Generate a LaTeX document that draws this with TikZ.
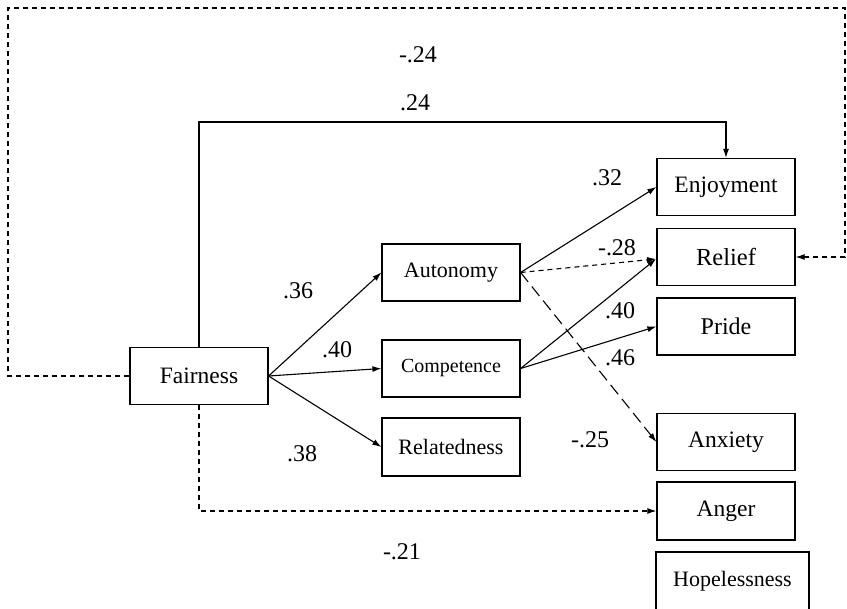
\documentclass[tikz,border=0pt]{standalone}
\usepackage{fontspec}
\setmainfont{Liberation Serif}
\usetikzlibrary{arrows.meta}
\begin{document}
\begin{tikzpicture}[x=1pt,y=-1pt,
  box/.style={draw, line width=1.2pt, minimum width=138pt, minimum height=57pt, inner sep=0pt, font=\fontsize{23.5}{28}\selectfont},
  smallbox/.style={box, font=\fontsize{22}{26}\selectfont},
  lbl/.style={font=\fontsize{24}{28}\selectfont, inner sep=0pt},
  arr/.style={line width=1.1pt, -{Latex[length=9pt,width=6pt]}},
  dsh/.style={dash pattern=on 5pt off 4pt},
  ldsh/.style={dash pattern=on 12pt off 6pt}]
\useasboundingbox (0,0) rectangle (847,609);
\node[box] (fair) at (199,376) {Fairness};
\node[smallbox] (aut) at (451,272.5) {Autonomy};
\node[box, font=\fontsize{20}{24}\selectfont] (comp) at (451,368.5) {Competence};
\node[smallbox, minimum height=58pt] (relt) at (451,447) {Relatedness};
\node[box] (enj) at (726,187) {Enjoyment};
\node[box, font=\fontsize{24.5}{28}\selectfont] (rel) at (726,257) {Relief};
\node[box, font=\fontsize{24}{28}\selectfont] (pri) at (726,326.5) {Pride};
\node[box] (anx) at (726,442) {Anxiety};
\node[box, minimum height=58pt] (ang) at (726,511) {Anger};
\node[smallbox, minimum width=153pt, minimum height=58pt] (hop) at (732.5,581) {Hopelessness};
\coordinate (relin) at (656,259);
\coordinate (top1) at (199,122);
\coordinate (lt) at (8,8);
\coordinate (rt) at (845,8);
% Fairness paths
\draw[arr] (fair.east) -- (aut.west);
\draw[arr] (fair.east) -- (comp.west);
\draw[arr] (fair.east) -- (relt.west);
\draw[arr] (fair.north) -- (top1) -| (enj.north);
\draw[arr,dsh] (fair.west) -| (lt) -- (rt) |- (rel.east);
\draw[arr,dsh] (fair.south) |- (ang.west);
% Autonomy paths
\draw[arr] (aut.east) -- (enj.west);
\draw[arr,dsh] (aut.east) -- (relin);
\draw[arr,ldsh] (aut.east) -- (anx.west);
% Competence paths
\draw[arr] (comp.east) -- (relin);
\draw[arr] (comp.east) -- (pri.west);
% labels
\node[lbl] (l1) at (418,55) {-.24};
\node[lbl] (l2) at (415,103) {.24};
\node[lbl] (l3) at (607,178) {.32};
\node[lbl] (l4) at (617,248) {-.28};
\node[lbl] (l5) at (620,311) {.40};
\node[lbl] (l6) at (620,358) {.46};
\node[lbl] (l7) at (298,291) {.36};
\node[lbl] (l8) at (337,350) {.40};
\node[lbl] (l9) at (302,454) {.38};
\node[lbl] (l10) at (590,440) {-.25};
\node[lbl] (l11) at (402,552) {-.21};
\end{tikzpicture}
\end{document}
